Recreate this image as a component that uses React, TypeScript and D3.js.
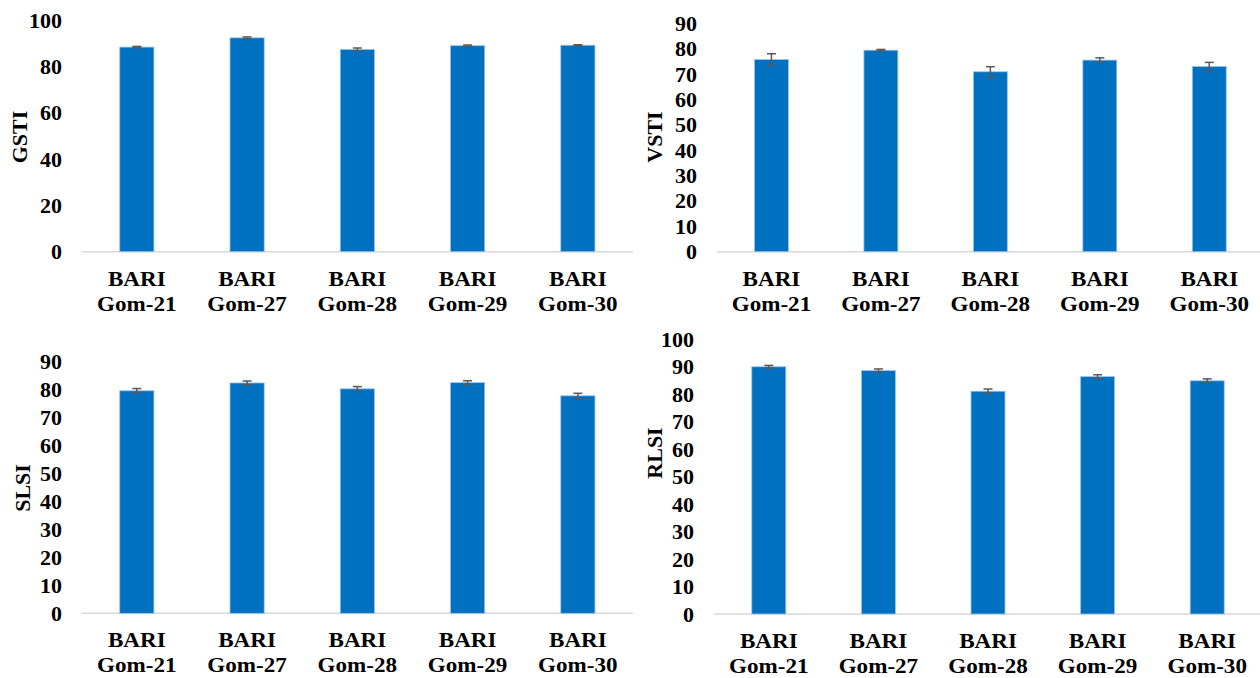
import React from "react";
import * as d3 from "d3";

const categories = ["BARI Gom-21", "BARI Gom-27", "BARI Gom-28", "BARI Gom-29", "BARI Gom-30"];

const gstiValues = [88.5, 92.5, 87.5, 89.1, 89.3];
const gstiErrors = [0.3, 0.4, 0.6, 0.3, 0.2];

const vstiValues = [75.7, 79.4, 70.9, 75.5, 73.0];
const vstiErrors = [2.3, 0.3, 2.0, 0.9, 1.6];

const slsiValues = [79.6, 82.4, 80.3, 82.5, 77.8];
const slsiErrors = [0.8, 0.7, 0.8, 0.7, 0.9];

const rlsiValues = [90.0, 88.6, 81.1, 86.4, 84.9];
const rlsiErrors = [0.5, 0.6, 0.8, 0.7, 0.7];

const ticks100 = [0, 20, 40, 60, 80, 100];
const ticks90 = [0, 10, 20, 30, 40, 50, 60, 70, 80, 90];
const ticks100by10 = [0, 10, 20, 30, 40, 50, 60, 70, 80, 90, 100];

const FONT = "'Liberation Serif', 'Times New Roman', serif";
const BAR = "#0070C0";

type PanelProps = {
  title: string;
  values: number[];
  errors: number[];
  ticks: number[];
  xRange: [number, number];
  yBase: number;
  yTop: number;
  tickRight: number;
  titleX: number;
  titleY: number;
};

function Panel(p: PanelProps) {
  const maxTick = p.ticks[p.ticks.length - 1];
  const y = d3.scaleLinear().domain([0, maxTick]).range([p.yBase, p.yTop]);
  const x = d3.scaleBand<string>().domain(categories).range(p.xRange).paddingInner(0.69).paddingOuter(0.345);
  const bw = x.bandwidth();
  return (
    <g>
      {p.ticks.map((t) => (
        <text key={t} x={p.tickRight} y={y(t) + 7.5} textAnchor="end" fontFamily={FONT} fontWeight="bold" fontSize={22} fill="#000">
          {t}
        </text>
      ))}
      <text
        transform={`translate(${p.titleX + 7},${p.titleY}) rotate(-90)`}
        textAnchor="middle"
        fontFamily={FONT}
        fontWeight="bold"
        fontSize={22}
        fill="#000"
      >
        {p.title}
      </text>
      <line x1={p.xRange[0]} x2={p.xRange[1]} y1={p.yBase} y2={p.yBase} stroke="#d9d9d9" strokeWidth={1.5} />
      {categories.map((c, i) => {
        const x0 = x(c)!;
        const cx = x0 + bw / 2;
        const v = p.values[i];
        const e = p.errors[i];
        return (
          <g key={c}>
            <rect x={x0} y={y(v)} width={bw} height={p.yBase - y(v)} fill={BAR} stroke="#9dc3e6" strokeWidth={0.8} />
            <g stroke="#595959" strokeWidth={1.5}>
              <line x1={cx} x2={cx} y1={y(v + e)} y2={y(v - e)} />
              <line x1={cx - 4.5} x2={cx + 4.5} y1={y(v + e)} y2={y(v + e)} />
              <line x1={cx - 4.5} x2={cx + 4.5} y1={y(v - e)} y2={y(v - e)} />
            </g>
            <g fontFamily={FONT} fontWeight="bold" fontSize={22} fill="#000" textAnchor="middle">
              <text transform={`translate(${cx},${p.yBase + 34}) scale(1.05,1)`}>{c.split(" ")[0]}</text>
              <text transform={`translate(${cx},${p.yBase + 59}) scale(1.05,1)`}>{c.split(" ")[1]}</text>
            </g>
          </g>
        );
      })}
    </g>
  );
}

export default function App() {
  return (
    <svg width={1260} height={678} style={{ position: "absolute", left: 0, top: 0, background: "#fff" }}>
      <rect width={1260} height={678} fill="#fff" />
      <Panel title="GSTI" values={gstiValues} errors={gstiErrors} ticks={ticks100} xRange={[81.7, 633]} yBase={251.7} yTop={20.5} tickRight={62} titleX={20} titleY={137} />
      <Panel title="VSTI" values={vstiValues} errors={vstiErrors} ticks={ticks90} xRange={[716.7, 1264]} yBase={251.7} yTop={23.3} tickRight={697} titleX={655} titleY={137} />
      <Panel title="SLSI" values={slsiValues} errors={slsiErrors} ticks={ticks90} xRange={[81.7, 633]} yBase={613.3} yTop={361.7} tickRight={62} titleX={23} titleY={488} />
      <Panel title="RLSI" values={rlsiValues} errors={rlsiErrors} ticks={ticks100by10} xRange={[714, 1262]} yBase={614} yTop={339.3} tickRight={694} titleX={655} titleY={453} />
    </svg>
  );
}
